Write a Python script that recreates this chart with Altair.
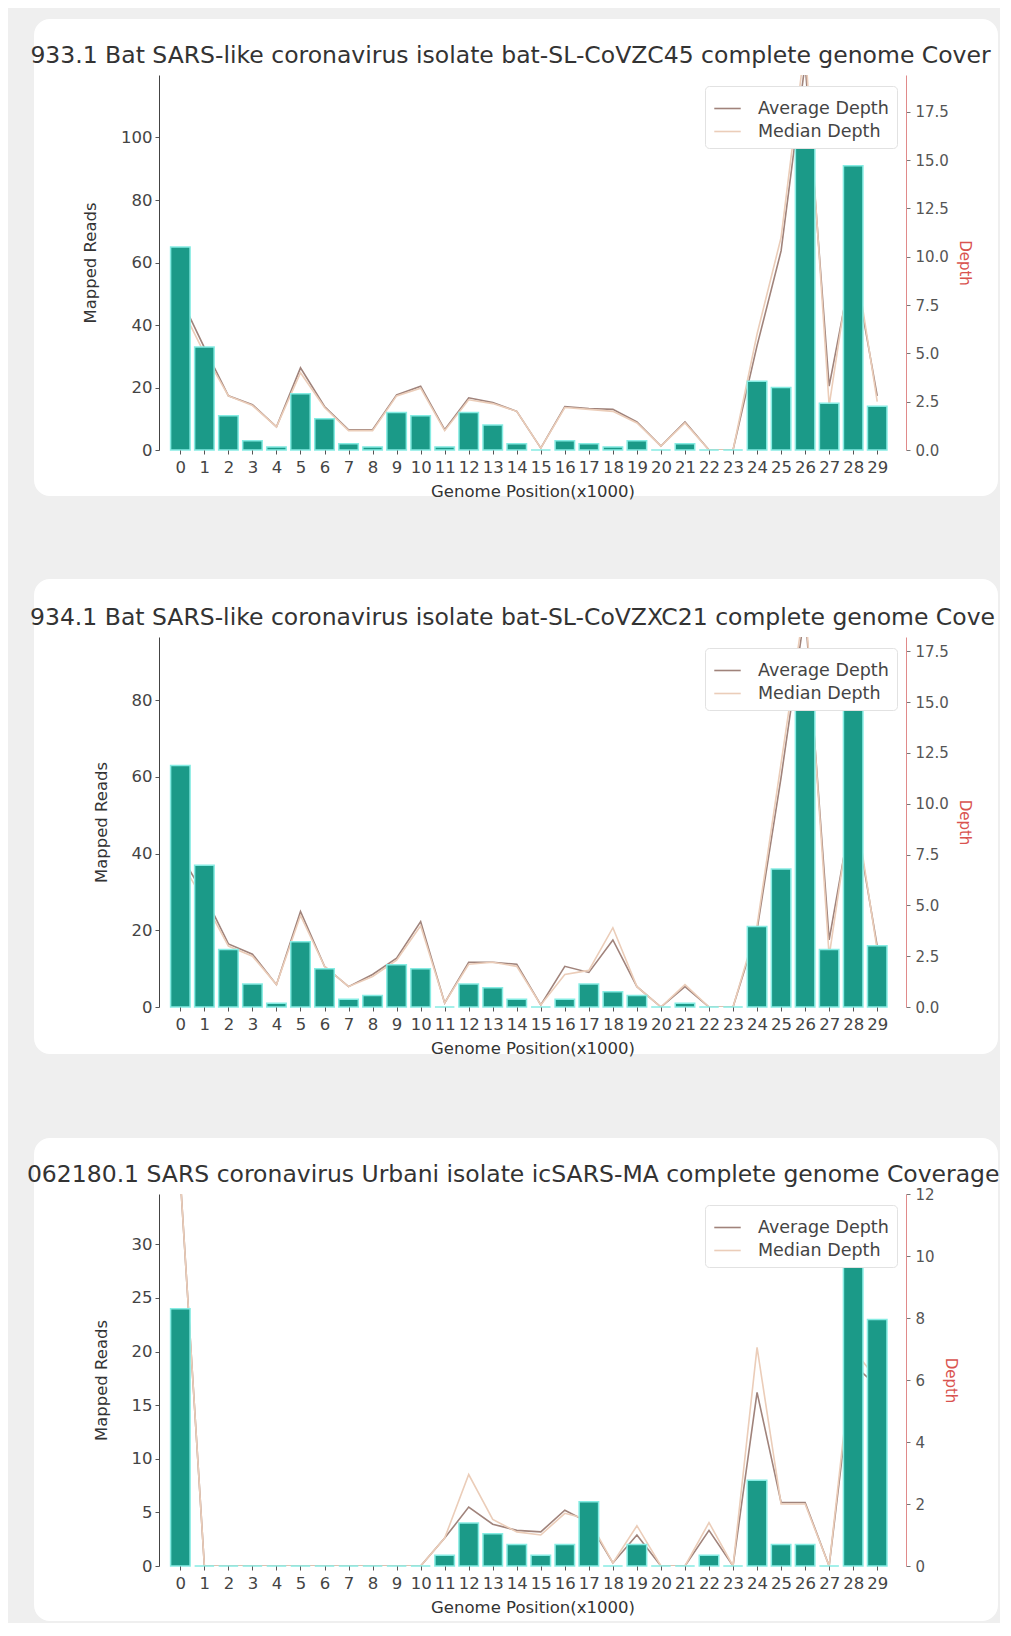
import altair as alt
import pandas as pd

positions = list(range(30))

titles = [
    "933.1 Bat SARS-like coronavirus isolate bat-SL-CoVZC45 complete genome Cover",
    "934.1 Bat SARS-like coronavirus isolate bat-SL-CoVZXC21 complete genome Cove",
    "062180.1 SARS coronavirus Urbani isolate icSARS-MA complete genome Coverage",
]

reads_1 = [65, 33, 11, 3, 1, 18, 10, 2, 1, 12, 11, 1, 12, 8, 2, 0, 3, 2, 1, 3, 0, 2, 0, 0, 22, 20, 100, 15, 91, 14]
avg_1 = [7.9, 5.3, 2.8, 2.35, 1.2, 4.25, 2.25, 1.05, 1.05, 2.85, 3.3, 1.05, 2.7, 2.45, 2.0, 0.1, 2.25, 2.15, 2.1, 1.45, 0.2, 1.45, 0.0, 0.0, 5.4, 10.3, 20.0, 3.3, 9.8, 2.8]
med_1 = [7.5, 5.0, 2.8, 2.3, 1.2, 4.0, 2.2, 1.0, 1.0, 2.8, 3.2, 1.0, 2.6, 2.4, 2.0, 0.1, 2.2, 2.1, 2.0, 1.4, 0.2, 1.4, 0.0, 0.0, 6.0, 11.0, 21.0, 2.3, 10.5, 2.5]

reads_2 = [63, 37, 15, 6, 1, 17, 10, 2, 3, 11, 10, 0, 6, 5, 2, 0, 2, 6, 4, 3, 0, 1, 0, 0, 21, 36, 82, 15, 82, 16]
avg_2 = [7.5, 5.5, 3.1, 2.6, 1.1, 4.7, 2.0, 1.0, 1.6, 2.4, 4.2, 0.2, 2.2, 2.2, 2.1, 0.1, 2.0, 1.7, 3.3, 1.0, 0.0, 1.0, 0.0, 0.0, 3.8, 11.3, 19.5, 3.3, 10.0, 3.0]
med_2 = [7.2, 5.2, 3.0, 2.5, 1.1, 4.5, 2.0, 1.0, 1.5, 2.3, 4.0, 0.2, 2.1, 2.2, 2.0, 0.1, 1.6, 1.8, 3.9, 1.0, 0.0, 1.1, 0.0, 0.0, 4.0, 12.0, 20.0, 2.5, 10.5, 2.8]

reads_3 = [24, 0, 0, 0, 0, 0, 0, 0, 0, 0, 0, 1, 4, 3, 2, 1, 2, 6, 0, 2, 0, 0, 1, 0, 8, 2, 2, 0, 29, 23]
avg_3 = [12.5, 0, 0, 0, 0, 0, 0, 0, 0, 0, 0, 0.9, 1.9, 1.35, 1.15, 1.1, 1.8, 1.4, 0.1, 1.0, 0, 0, 1.15, 0, 5.6, 2.05, 2.05, 0, 6.5, 5.8]
med_3 = [12.5, 0, 0, 0, 0, 0, 0, 0, 0, 0, 0, 0.9, 2.95, 1.5, 1.1, 1.0, 1.7, 1.5, 0.1, 1.3, 0, 0, 1.4, 0, 7.05, 2.0, 2.0, 0, 7.0, 6.0]

left_ticks = [[0, 20, 40, 60, 80, 100], [0, 20, 40, 60, 80], [0, 5, 10, 15, 20, 25, 30]]
right_ticks = [[0, 2.5, 5, 7.5, 10, 12.5, 15, 17.5], [0, 2.5, 5, 7.5, 10, 12.5, 15, 17.5], [0, 2, 4, 6, 8, 10, 12]]
left_max = [120, 96.5, 34.7]
right_max = [19.4, 18.2, 12]
right_fmt = [".1f", ".1f", "d"]
heights = [375, 370, 372]
card_y = [(-56, 421), (-58, 417), (-56, 427)]
title_dx = [-22, -20, -19.3]

series_names = ["Average Depth", "Median Depth"]
series_colors = ["#a0837b", "#ebcdb9"]
FONT = "DejaVu Sans"
W = 747


def x_axis():
    return alt.Axis(values=positions, title="Genome Position(x1000)", zindex=1,
                    domain=False, grid=False, tickSize=4, tickColor="#555555",
                    labelPadding=5, labelFontSize=16.5, labelColor="#444444",
                    labelFlush=False, labelOverlap=False,
                    titleFontSize=16.5, titleFontWeight="normal", titlePadding=8,
                    titleColor="#333333", labelFont=FONT, titleFont=FONT)


def panel(i, reads, avg, med):
    h = heights[i]
    df_bar = pd.DataFrame({"pos": positions, "reads": reads})
    df_line = pd.DataFrame({
        "pos": positions + positions,
        "depth": avg + med,
        "series": [series_names[0]] * 30 + [series_names[1]] * 30,
    })
    xscale = alt.Scale(domain=[-0.68, 29.99], nice=False, zero=False)

    card = alt.Chart(pd.DataFrame({"c": [0]})).mark_rect(
        fill="white", cornerRadius=16, clip=False
    ).encode(
        x=alt.value(-125), x2=alt.value(839),
        y=alt.value(card_y[i][0]), y2=alt.value(card_y[i][1]),
    )

    lines = alt.Chart(df_line).mark_line(strokeWidth=1.6, clip=True).encode(
        x=alt.X("pos:Q", scale=xscale, axis=x_axis()),
        y=alt.Y("depth:Q",
                scale=alt.Scale(domain=[0, right_max[i]], nice=False),
                axis=alt.Axis(orient="right", title="Depth", values=right_ticks[i],
                              format=right_fmt[i], grid=False, zindex=1,
                              domainColor="#e08a8a", tickColor="#777777",
                              titleColor="#d9534f", labelColor="#555555",
                              tickSize=4, labelPadding=5, titlePadding=8,
                              labelFontSize=15, titleFontSize=15,
                              titleFontWeight="normal", labelFont=FONT, titleFont=FONT)),
        color=alt.Color("series:N",
                        scale=alt.Scale(domain=series_names, range=series_colors),
                        legend=alt.Legend(title=None, orient="none", legendX=546, legendY=11,
                                          symbolType="stroke", symbolStrokeWidth=1.6,
                                          symbolSize=700, labelFontSize=17.5, labelFont=FONT,
                                          labelColor="#444444", labelOffset=16,
                                          fillColor="white", strokeColor="#e2e2e2",
                                          cornerRadius=4, padding=8, rowPadding=0)),
        order="pos:Q",
    )

    bars = alt.Chart(df_bar).mark_bar(
        size=19.5, orient="vertical", fill="#1b9a88", stroke="#86ece3", strokeWidth=1.5
    ).encode(
        x=alt.X("pos:Q", scale=xscale, axis=x_axis()),
        y=alt.Y("reads:Q",
                scale=alt.Scale(domain=[0, left_max[i]], nice=False),
                axis=alt.Axis(orient="left", title="Mapped Reads", values=left_ticks[i],
                              grid=False, domainColor="#444444", tickColor="#555555", zindex=1,
                              tickSize=4, labelPadding=3, labelFontSize=16.5,
                              labelColor="#444444", titleFontSize=16.5, titleFontWeight="normal",
                              titlePadding=22, titleColor="#333333",
                              labelFont=FONT, titleFont=FONT)),
    )

    return alt.layer(card, lines, bars).resolve_scale(y="independent").properties(
        width=W, height=h,
        title=alt.TitleParams(titles[i], fontSize=23.5, font=FONT, fontWeight="normal",
                              color="#333333", anchor="middle", dx=title_dx[i],
                              offset=card_y[i][0] + 8),
    )


chart = alt.vconcat(
    panel(0, reads_1, avg_1, med_1),
    panel(1, reads_2, avg_2, med_2),
    panel(2, reads_3, avg_3, med_3),
    spacing=187, bounds="flush",
).resolve_scale(color="independent").properties(
    background="#efefef",
    padding={"left": 18, "top": 11, "right": 0, "bottom": 2},
).configure_view(stroke=None)

chart.save("out.html", embed_options={"renderer": "svg", "actions": False})
